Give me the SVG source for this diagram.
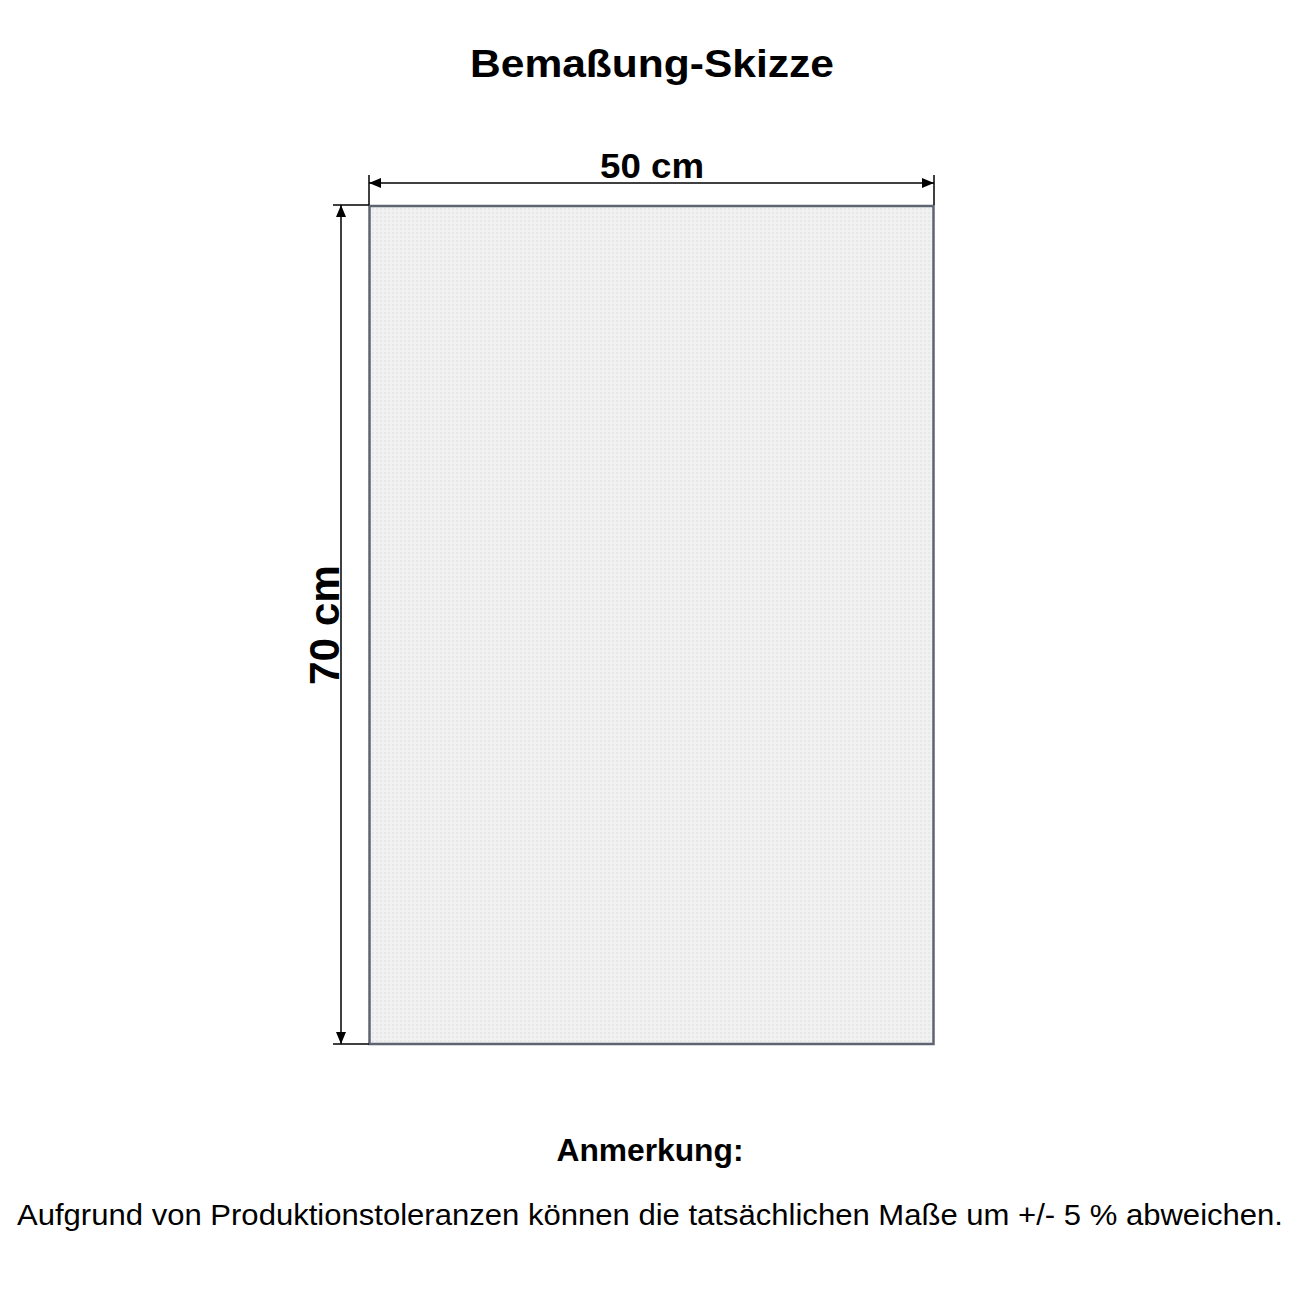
<svg xmlns="http://www.w3.org/2000/svg" width="1300" height="1300" viewBox="0 0 1300 1300">
  <style>
    .t { font-family: "Liberation Sans", Arial, sans-serif; fill: #000; }
    .b { font-weight: bold; }
    .dim { stroke: #000; stroke-width: 1.5; fill: none; }
  </style>
  <defs>
    <marker id="arr" viewBox="0 0 12 10" refX="12" refY="5" markerWidth="12" markerHeight="10" markerUnits="userSpaceOnUse" orient="auto-start-reverse">
      <path d="M0,0 L12,5 L0,10 Z" fill="#000"/>
    </marker>
    <pattern id="weave" width="4" height="4" patternUnits="userSpaceOnUse">
      <rect width="4" height="4" fill="#f1f1f1"/>
      <rect x="0" y="0" width="2" height="2" fill="#e8e8e8"/>
    </pattern>
  </defs>
  <rect width="1300" height="1300" fill="#ffffff"/>

  <text class="t b" x="652" y="77" font-size="39" text-anchor="middle" textLength="364" lengthAdjust="spacingAndGlyphs">Bemaßung-Skizze</text>

  <g id="panel">
    <rect x="369.5" y="206" width="564" height="838" fill="url(#weave)" stroke="#5f6472" stroke-width="2.5"/>
  </g>

  <g id="connectors">
    <line class="dim" x1="369" y1="175" x2="369" y2="205"/>
    <line class="dim" x1="934" y1="175" x2="934" y2="205"/>
    <line class="dim" x1="369" y1="183" x2="934" y2="183" marker-start="url(#arr)" marker-end="url(#arr)"/>
    <line class="dim" x1="333" y1="205" x2="369" y2="205"/>
    <line class="dim" x1="333" y1="1044" x2="369" y2="1044"/>
    <line class="dim" x1="341" y1="205" x2="341" y2="1044" marker-start="url(#arr)" marker-end="url(#arr)"/>
  </g>

  <g id="label-width">
    <text class="t b" x="652" y="178" font-size="35" text-anchor="middle" textLength="104" lengthAdjust="spacingAndGlyphs">50 cm</text>
  </g>
  <g id="label-height">
    <text class="t b" transform="translate(339,625) rotate(-90)" x="0" y="0" font-size="42" text-anchor="middle" textLength="120" lengthAdjust="spacingAndGlyphs">70 cm</text>
  </g>

  <g id="note">
    <text class="t b" x="650" y="1161" font-size="31" text-anchor="middle" textLength="187" lengthAdjust="spacingAndGlyphs">Anmerkung:</text>
    <text class="t" x="650" y="1225" font-size="29" text-anchor="middle" textLength="1266" lengthAdjust="spacingAndGlyphs">Aufgrund von Produktionstoleranzen können die tatsächlichen Maße um +/- 5 % abweichen.</text>
  </g>
</svg>
